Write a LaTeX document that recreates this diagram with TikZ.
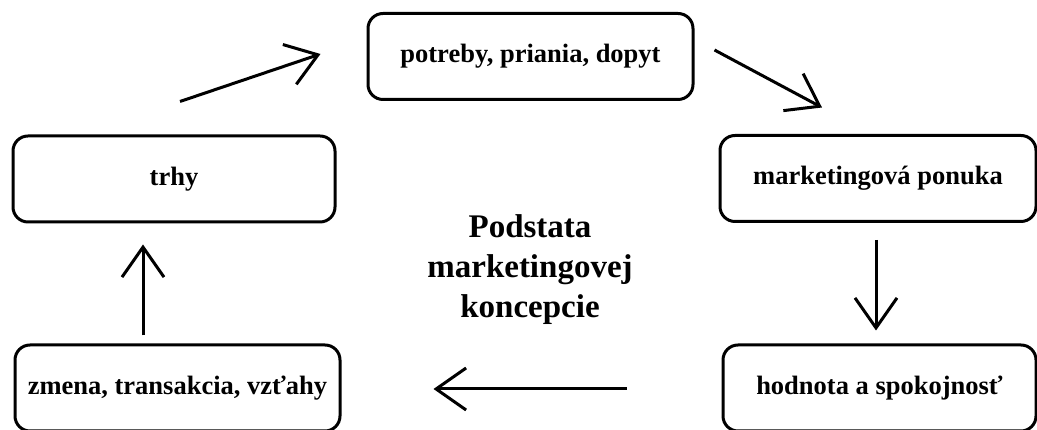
\documentclass[tikz,border=0pt]{standalone}
\usepackage{fontspec}
\setmainfont{Liberation Serif}
\usetikzlibrary{arrows.meta}
\begin{document}
\begin{tikzpicture}[x=1pt,y=1pt]
\tikzstyle{pojem}=[rectangle,draw,line width=3pt,rounded corners=15pt,inner sep=0pt,minimum height=86pt,font=\fontsize{26.5}{30}\selectfont\bfseries]
  \tikzstyle{sipka}=[line width=3pt,-{Straight Barb[length=30pt,width=42pt]}]

  \clip (0,0) rectangle (1037,430);

  \node[pojem,minimum width=325pt] (potreby) at (530.5,373.5) {potreby, priania, dopyt};
  \node[pojem,minimum width=316pt] (ponuka) at (878,251.5) {marketingová ponuka};
  \node[pojem,minimum width=313pt] (hodnota) at (879.5,42) {hodnota a spokojnosť};
  \node[pojem,minimum width=325pt] (zmena) at (177.5,42) {zmena, transakcia, vzťahy};
  \node[pojem,minimum width=322pt] (trhy) at (174,251) {trhy};

  \node[align=center,inner sep=0pt,font=\fontsize{33}{40}\selectfont\bfseries] (stred) at (530,160)
    {Podstata\\marketingovej\\koncepcie};

  \draw[sipka] ([shift={(6,33)}]trhy.north) -- ([shift={(-46,2.5)}]potreby.west);
  \draw[sipka] ([shift={(20,6.5)}]potreby.east) -- ([shift={(-56,26.5)}]ponuka.north);
  \draw[sipka] ([shift={(-2,-17)}]ponuka.south) -- ([shift={(-3.5,13)}]hodnota.north);
  \draw[sipka] ([shift={(-95,-1)}]hodnota.west) -- ([shift={(92,-1)}]zmena.east);
  \draw[sipka] ([shift={(-34.5,8)}]zmena.north) -- ([shift={(-31,-21)}]trhy.south);
\end{tikzpicture}
\end{document}
